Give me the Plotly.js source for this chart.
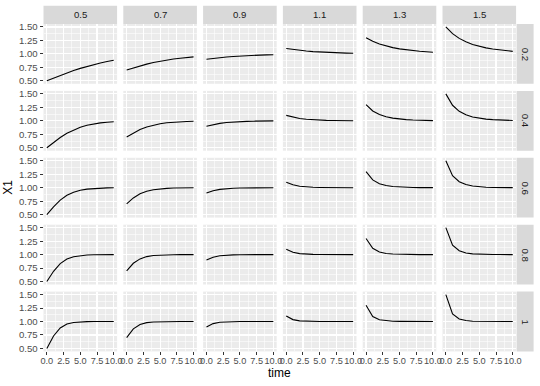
<!DOCTYPE html>
<html><head><meta charset="utf-8">
<script src="https://cdn.plot.ly/plotly-3.0.1.min.js"></script>
<style>html,body{margin:0;padding:0;background:#fff}#chart{width:540px;height:386px}</style>
</head><body><div id="chart"></div>
<script>
// facet columns: initial X1; facet rows: rate
const colLabels = ['0.5', '0.7', '0.9', '1.1', '1.3', '1.5'];
const rowLabels = ['0.2', '0.4', '0.6', '0.8', '1'];
const time = [0, 1, 2, 3, 4, 5, 6, 7, 8, 9, 10];
const xTickVals = [0, 2.5, 5, 7.5, 10];
const yTickVals = [0.5, 0.75, 1.0, 1.25, 1.5];

// X1 values, one array per facet column; inner arrays are facet rows (0.2 .. 1)
const X1_start05 = [
  [0.500, 0.550, 0.599, 0.646, 0.690, 0.731, 0.769, 0.802, 0.832, 0.858, 0.881],
  [0.500, 0.599, 0.690, 0.769, 0.832, 0.881, 0.917, 0.943, 0.961, 0.973, 0.982],
  [0.500, 0.646, 0.769, 0.858, 0.917, 0.953, 0.973, 0.985, 0.992, 0.996, 0.998],
  [0.500, 0.690, 0.832, 0.917, 0.961, 0.982, 0.992, 0.996, 0.998, 0.999, 1.000],
  [0.500, 0.731, 0.881, 0.953, 0.982, 0.993, 0.998, 0.999, 1.000, 1.000, 1.000]
];
const X1_start07 = [
  [0.700, 0.740, 0.777, 0.810, 0.839, 0.864, 0.886, 0.904, 0.920, 0.934, 0.945],
  [0.700, 0.777, 0.839, 0.886, 0.920, 0.945, 0.963, 0.975, 0.983, 0.988, 0.992],
  [0.700, 0.810, 0.886, 0.934, 0.963, 0.979, 0.988, 0.994, 0.997, 0.998, 0.999],
  [0.700, 0.839, 0.920, 0.963, 0.983, 0.992, 0.997, 0.998, 0.999, 1.000, 1.000],
  [0.700, 0.864, 0.945, 0.979, 0.992, 0.997, 0.999, 1.000, 1.000, 1.000, 1.000]
];
const X1_start09 = [
  [0.900, 0.917, 0.931, 0.943, 0.952, 0.961, 0.968, 0.973, 0.978, 0.982, 0.985],
  [0.900, 0.931, 0.952, 0.968, 0.978, 0.985, 0.990, 0.993, 0.995, 0.997, 0.998],
  [0.900, 0.943, 0.968, 0.982, 0.990, 0.994, 0.997, 0.998, 0.999, 1.000, 1.000],
  [0.900, 0.952, 0.978, 0.990, 0.995, 0.998, 0.999, 1.000, 1.000, 1.000, 1.000],
  [0.900, 0.961, 0.985, 0.994, 0.998, 0.999, 1.000, 1.000, 1.000, 1.000, 1.000]
];
const X1_start11 = [
  [1.100, 1.080, 1.065, 1.053, 1.043, 1.035, 1.028, 1.023, 1.019, 1.015, 1.012],
  [1.100, 1.065, 1.043, 1.028, 1.019, 1.012, 1.008, 1.006, 1.004, 1.002, 1.002],
  [1.100, 1.053, 1.028, 1.015, 1.008, 1.005, 1.002, 1.001, 1.001, 1.000, 1.000],
  [1.100, 1.043, 1.019, 1.008, 1.004, 1.002, 1.001, 1.000, 1.000, 1.000, 1.000],
  [1.100, 1.035, 1.012, 1.005, 1.002, 1.001, 1.000, 1.000, 1.000, 1.000, 1.000]
];
const X1_start13 = [
  [1.300, 1.233, 1.183, 1.145, 1.116, 1.093, 1.075, 1.060, 1.049, 1.040, 1.032],
  [1.300, 1.183, 1.116, 1.075, 1.049, 1.032, 1.021, 1.014, 1.010, 1.006, 1.004],
  [1.300, 1.145, 1.075, 1.040, 1.021, 1.012, 1.006, 1.003, 1.002, 1.001, 1.001],
  [1.300, 1.116, 1.049, 1.021, 1.010, 1.004, 1.002, 1.001, 1.000, 1.000, 1.000],
  [1.300, 1.093, 1.032, 1.012, 1.004, 1.002, 1.001, 1.000, 1.000, 1.000, 1.000]
];
const X1_start15 = [
  [1.500, 1.375, 1.288, 1.224, 1.176, 1.140, 1.112, 1.090, 1.072, 1.058, 1.047],
  [1.500, 1.288, 1.176, 1.112, 1.072, 1.047, 1.031, 1.021, 1.014, 1.009, 1.006],
  [1.500, 1.224, 1.112, 1.058, 1.031, 1.017, 1.009, 1.005, 1.003, 1.002, 1.001],
  [1.500, 1.176, 1.072, 1.031, 1.014, 1.006, 1.003, 1.001, 1.001, 1.000, 1.000],
  [1.500, 1.140, 1.047, 1.017, 1.006, 1.002, 1.001, 1.000, 1.000, 1.000, 1.000]
];
const byColumn = [X1_start05, X1_start07, X1_start09, X1_start11, X1_start13, X1_start15];

const W = 540, H = 386;
const FONT = 'Liberation Sans, Arial, Helvetica, sans-serif';
const panelLeft0 = 43.5, colPitch = 79.8, panelW = 73.6;
const panelTop0 = 24, rowPitch = 66.9, panelH = 59.8;
const stripTop = 5.7, stripRightL = 516.6, stripRightW = 17;

const traces = [];
const layout = {
  width: W, height: H,
  margin: {l: 0, r: 0, t: 0, b: 0, pad: 0},
  paper_bgcolor: '#FFFFFF', plot_bgcolor: '#EBEBEB',
  showlegend: false,
  font: {family: FONT},
  shapes: [], annotations: []
};

for (let r = 0; r < rowLabels.length; r++) {
  for (let c = 0; c < colLabels.length; c++) {
    const i = r * colLabels.length + c + 1;
    const sfx = i === 1 ? '' : String(i);
    const L = panelLeft0 + c * colPitch;
    const T = panelTop0 + r * rowPitch;
    traces.push({
      x: time, y: byColumn[c][r], type: 'scatter', mode: 'lines',
      xaxis: 'x' + sfx, yaxis: 'y' + sfx,
      line: {color: '#000000', width: 1.1}, hoverinfo: 'skip'
    });
    const bottom = r === rowLabels.length - 1, left = c === 0;
    layout['xaxis' + sfx] = {
      domain: [L / W, (L + panelW) / W], anchor: 'y' + sfx,
      range: [-0.5, 10.5], tickmode: 'array', tickvals: xTickVals,
      ticktext: xTickVals.map(v => v.toFixed(1)), tickangle: 0,
      showticklabels: bottom, ticks: bottom ? 'outside' : '', ticklen: 3,
      ticklabelstandoff: -2,
      tickcolor: '#333333', tickwidth: 1,
      tickfont: {family: FONT, size: 9.2, color: '#4D4D4D'},
      showgrid: true, gridcolor: '#FFFFFF', gridwidth: 1.1,
      minor: {tickmode: 'array', tickvals: [1.25, 3.75, 6.25, 8.75], showgrid: true, gridcolor: '#FFFFFF', gridwidth: 0.55},
      zeroline: false, showline: false, fixedrange: true
    };
    layout['yaxis' + sfx] = {
      domain: [1 - (T + panelH) / H, 1 - T / H], anchor: 'x' + sfx,
      range: [0.445, 1.555], tickmode: 'array', tickvals: yTickVals,
      ticktext: yTickVals.map(v => v.toFixed(2)),
      showticklabels: left, ticks: left ? 'outside' : '', ticklen: 3,
      tickcolor: '#333333', tickwidth: 1,
      tickfont: {family: FONT, size: 9.6, color: '#4D4D4D'},
      showgrid: true, gridcolor: '#FFFFFF', gridwidth: 1.1,
      minor: {tickmode: 'array', tickvals: [0.625, 0.875, 1.125, 1.375], showgrid: true, gridcolor: '#FFFFFF', gridwidth: 0.55},
      zeroline: false, showline: false, fixedrange: true
    };
  }
}

// top strips
colLabels.forEach((lab, c) => {
  const L = panelLeft0 + c * colPitch;
  layout.shapes.push({type: 'rect', xref: 'paper', yref: 'paper',
    x0: L / W, x1: (L + panelW) / W, y0: 1 - panelTop0 / H, y1: 1 - stripTop / H,
    fillcolor: '#D9D9D9', line: {width: 0}});
  layout.annotations.push({xref: 'paper', yref: 'paper', x: (L + panelW / 2) / W,
    y: 1 - ((stripTop + panelTop0) / 2) / H, text: lab, showarrow: false,
    xanchor: 'center', yanchor: 'middle', font: {family: FONT, size: 9.6, color: '#1A1A1A'}});
});
// right strips
rowLabels.forEach((lab, r) => {
  const T = panelTop0 + r * rowPitch;
  layout.shapes.push({type: 'rect', xref: 'paper', yref: 'paper',
    x0: stripRightL / W, x1: (stripRightL + stripRightW) / W, y0: 1 - (T + panelH) / H, y1: 1 - T / H,
    fillcolor: '#D9D9D9', line: {width: 0}});
  layout.annotations.push({xref: 'paper', yref: 'paper', x: (stripRightL + stripRightW / 2) / W,
    y: 1 - (T + panelH / 2) / H, text: lab, showarrow: false, textangle: 90,
    xanchor: 'center', yanchor: 'middle', font: {family: FONT, size: 9.6, color: '#1A1A1A'}});
});
// axis titles
const gridBottom = panelTop0 + 4 * rowPitch + panelH;
layout.annotations.push({xref: 'paper', yref: 'paper',
  x: (panelLeft0 + (5 * colPitch + panelW) / 2) / W, y: 1 - 373 / H,
  text: 'time', showarrow: false, xanchor: 'center', yanchor: 'middle',
  font: {family: FONT, size: 12, color: '#000000'}});
layout.annotations.push({xref: 'paper', yref: 'paper',
  x: 8 / W, y: 1 - ((panelTop0 + gridBottom) / 2) / H,
  text: 'X1', showarrow: false, textangle: -90, xanchor: 'center', yanchor: 'middle',
  font: {family: FONT, size: 12, color: '#000000'}});

Plotly.newPlot('chart', traces, layout, {displayModeBar: false, staticPlot: true});
</script></body></html>
